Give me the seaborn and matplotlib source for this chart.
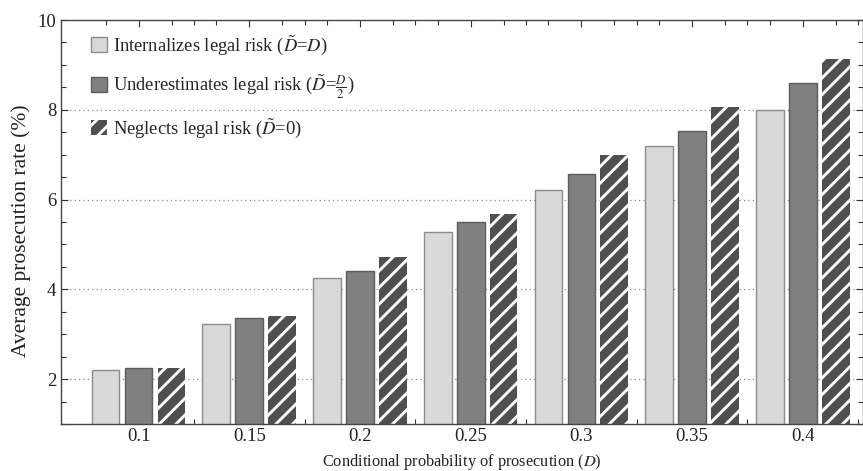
import numpy as np
import pandas as pd
import matplotlib
matplotlib.use("Agg")
import matplotlib.pyplot as plt
from matplotlib.ticker import FixedLocator, MultipleLocator
import seaborn as sns

# Conditional probability of prosecution (x categories)
d_values = ["0.1", "0.15", "0.2", "0.25", "0.3", "0.35", "0.4"]

# Average prosecution rate (%) for each perception of legal risk
internalizes = [2.20, 3.23, 4.26, 5.27, 6.21, 7.19, 8.00]
underestimates = [2.24, 3.36, 4.41, 5.49, 6.56, 7.52, 8.59]
neglects = [2.25, 3.41, 4.72, 5.68, 7.00, 8.07, 9.13]

series_labels = [
    r"Internalizes legal risk ($\tilde{D}$=$D$)",
    r"Underestimates legal risk ($\tilde{D}$=$\frac{D}{2}$)",
    r"Neglects legal risk ($\tilde{D}$=0)",
]
y_ticks = [2, 4, 6, 8, 10]

df = pd.DataFrame({
    "D": d_values * 3,
    "rate": internalizes + underestimates + neglects,
    "strategy": [series_labels[0]] * 7 + [series_labels[1]] * 7 + [series_labels[2]] * 7,
})

sns.set_theme(style="ticks")
plt.rcParams["font.family"] = ["Liberation Serif", "DejaVu Serif"]
plt.rcParams["mathtext.fontset"] = "stix"
plt.rcParams["hatch.linewidth"] = 2.1
plt.rcParams["hatch.color"] = "white"

fig = plt.figure(figsize=(8.63, 4.71), dpi=100)
ax = fig.add_axes([0.0707, 0.0998, 0.9288, 0.8577])

face = ["#d9d9d9", "#808080", "#4f4f4f"]
edges = ["#8c8c8c", "#5c5c5c", "white"]

sns.barplot(data=df, x="D", y="rate", hue="strategy", order=d_values,
            hue_order=series_labels, palette=face, width=0.894, gap=0.16,
            saturation=1, linewidth=1.0, errorbar=None, legend=False, ax=ax)

for cont, ec in zip(ax.containers, edges):
    for p in cont:
        p.set_edgecolor(ec)
for p in ax.containers[2]:
    p.set_hatch("//")
    p.set_linewidth(0)

ax.set_xlim(-0.70, 6.54)
ax.set_ylim(1, 10)

# ticks: major at group centres, minor under every bar and at group borders
centers = np.arange(len(d_values))
ax.xaxis.set_major_locator(FixedLocator(centers))
minor_x = np.concatenate([centers - 0.298, centers + 0.298, centers + 0.5])
ax.xaxis.set_minor_locator(FixedLocator(minor_x))
ax.set_xticklabels(d_values)
ax.yaxis.set_major_locator(FixedLocator(y_ticks))
ax.yaxis.set_minor_locator(MultipleLocator(0.5))

ax.tick_params(which="both", direction="in", top=True, right=True,
               colors="#333333", labelcolor="#222222", labelsize=13.5, width=0.8)
ax.tick_params(which="major", length=5)
ax.tick_params(which="minor", length=3.5)
ax.tick_params(axis="x", pad=3)

for s in ax.spines.values():
    s.set_color("#444444")
    s.set_linewidth(1.0)

for yv in y_ticks[:-1]:
    ax.axhline(yv, color="#8a8a8a", lw=0.9, ls=(0, (1, 2.5)), zorder=0)

ax.set_xlabel("Conditional probability of prosecution ($D$)", fontsize=11.8,
              color="#222222", labelpad=5)
ax.set_ylabel("Average prosecution rate (%)", fontsize=15.5, color="#222222")
ax.yaxis.set_label_coords(-0.037, 0.478)

ax.legend(handles=list(ax.containers), labels=series_labels,
          loc="upper left", bbox_to_anchor=(0.028, 0.985), frameon=False,
          fontsize=13.3, handlelength=0.85, handleheight=0.85,
          handletextpad=0.35, labelspacing=0.85, borderaxespad=0)

fig.savefig("out.png", dpi=100)
